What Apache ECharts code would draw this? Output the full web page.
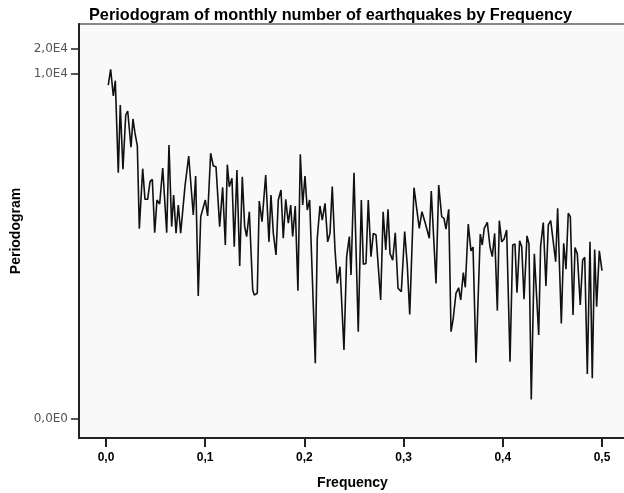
<!DOCTYPE html>
<html>
<head>
<meta charset="utf-8">
<script src="https://cdn.jsdelivr.net/npm/echarts@6/dist/echarts.min.js"></script>
<style>
  html, body { margin: 0; padding: 0; background: #fff; }
  #chart { width: 624px; height: 493px; }
</style>
</head>
<body>
<div id="chart"></div>
<script>
// frequency of each periodogram ordinate
const frequency = [
  0.0023, 0.0047, 0.0074, 0.0094, 0.0124, 0.0144, 0.0171, 0.0199, 0.0219, 0.0252,
  0.0272, 0.0292, 0.0316, 0.0336, 0.037, 0.0393, 0.042, 0.0444, 0.0467, 0.0491,
  0.0514, 0.0541, 0.0572, 0.0592, 0.0612, 0.0635, 0.0662, 0.0682, 0.0706, 0.0729,
  0.0753, 0.0796, 0.0834, 0.088, 0.0904, 0.093, 0.0955, 0.1001, 0.1025, 0.1055,
  0.1082, 0.1109, 0.1146, 0.1176, 0.1203, 0.1223, 0.1243, 0.127, 0.1293, 0.132,
  0.1348, 0.1374, 0.1398, 0.1418, 0.1445, 0.1479, 0.1495, 0.1525, 0.1545, 0.1573,
  0.161, 0.1643, 0.1663, 0.1687, 0.1714, 0.1737, 0.1764, 0.1787, 0.1812, 0.1838,
  0.1862, 0.1882, 0.1908, 0.1935, 0.1959, 0.1983, 0.2006, 0.2029, 0.2053, 0.211,
  0.213, 0.2157, 0.218, 0.2208, 0.2235, 0.2258, 0.2281, 0.2308, 0.2332, 0.2359,
  0.2376, 0.2399, 0.2426, 0.2453, 0.247, 0.25, 0.2543, 0.2574, 0.2594, 0.2621,
  0.2644, 0.2671, 0.2695, 0.2722, 0.2769, 0.2794, 0.282, 0.2843, 0.2863, 0.289,
  0.2916, 0.2944, 0.2977, 0.3011, 0.3037, 0.3062, 0.3105, 0.3158, 0.3185, 0.3219,
  0.3259, 0.3279, 0.3327, 0.3354, 0.3384, 0.3407, 0.3427, 0.3455, 0.3478, 0.3501,
  0.3528, 0.3555, 0.3576, 0.3602, 0.3622, 0.3652, 0.3679, 0.37, 0.373, 0.3773,
  0.3793, 0.3813, 0.3844, 0.3871, 0.3894, 0.3918, 0.3945, 0.3965, 0.3989, 0.4012,
  0.4039, 0.4073, 0.41, 0.4123, 0.4143, 0.417, 0.4191, 0.4214, 0.4244, 0.4264,
  0.4287, 0.4318, 0.4338, 0.4362, 0.4381, 0.4408, 0.4435, 0.4459, 0.4483, 0.4533,
  0.4553, 0.459, 0.4614, 0.4637, 0.466, 0.4681, 0.4708, 0.4728, 0.4751, 0.4781,
  0.4805, 0.4826, 0.4852, 0.4879, 0.4902, 0.4926, 0.4946, 0.4973, 0.5
];

// periodogram values
const periodogram = [
  7360, 11400, 5430, 8300, 647, 4236, 711, 3206, 3581, 1309,
  2870, 1946, 1358, 137, 723, 309, 309, 504, 538, 122,
  303, 271, 737, 764, 122, 1396, 145, 349, 121, 264,
  121, 439, 1028, 200, 590, 21.2, 191, 303, 195, 1109,
  779, 764, 145, 431, 87, 808, 439, 554, 83, 697,
  48.6, 579, 145, 110, 219, 25, 21.7, 22.8, 295, 166,
  607, 95, 349, 120, 66, 303, 400, 105, 309, 159,
  264, 110, 257, 24.5, 1078, 264, 590, 230, 303, 3.27,
  105, 257, 174, 277, 95, 120, 439, 79, 30, 47.7,
  50, 4.73, 63, 110, 37.9, 647, 7.86, 303, 51, 52,
  303, 63, 120, 115, 18.9, 219, 76, 234, 69, 57,
  122, 26.2, 23.8, 126, 50, 12.7, 427, 138, 219, 159,
  105, 389, 30, 460, 191, 182, 135, 234, 7.86, 11.4,
  22.8, 26.6, 18.9, 40.4, 26.9, 156, 74, 82, 3.32, 118,
  87, 138, 163, 83, 63, 120, 14.1, 171, 95, 102,
  132, 3.42, 87, 89.5, 23.2, 98, 83, 19.3, 112, 89.5,
  1.2, 68, 70, 7.17, 83, 162, 27.9, 152, 171, 54.8,
  241, 9.9, 91, 44.4, 210, 191, 12.5, 81, 68, 16.5,
  57, 62, 2.43, 95, 2.16, 77, 15.7, 74, 42.7
];

const xTicks = [0, 0.1, 0.2, 0.3, 0.4, 0.5];
const yTicks = [0.7, 10000, 20000];
const yTickLabels = ['0,0E0', '1,0E4', '2,0E4'];

const font = 'Liberation Sans, Arial, sans-serif';
const chart = echarts.init(document.getElementById('chart'));

const option = {
  animation: false,
  backgroundColor: '#ffffff',
  title: {
    text: 'Periodogram of monthly number of earthquakes by Frequency',
    left: 84,
    top: 3,
    textStyle: { fontFamily: font, fontSize: 16.3, fontWeight: 'bold', color: '#000' }
  },
  grid: {
    left: 79,
    top: 24,
    right: -2,
    bottom: 55,
    outerBoundsMode: 'none',
    containLabel: false,
    show: true,
    backgroundColor: '#f9f9f9',
    borderColor: '#888',
    borderWidth: 2
  },
  xAxis: {
    type: 'value',
    min: -0.0272,
    max: 0.5242,
    name: 'Frequency',
    nameLocation: 'middle',
    nameGap: 38,
    nameTextStyle: { fontFamily: font, fontSize: 14, fontWeight: 'bold', color: '#000' },
    splitLine: { show: false },
    axisLine: { onZero: false, lineStyle: { color: '#222', width: 2 } },
    axisTick: { customValues: xTicks, length: 9, lineStyle: { color: '#222', width: 2 } },
    axisLabel: {
      customValues: xTicks,
      margin: 14,
      fontFamily: font,
      fontSize: 12,
      fontWeight: 'bold',
      color: '#000',
      formatter: v => v.toFixed(1).replace('.', ',')
    }
  },
  yAxis: {
    type: 'log',
    min: 0.4116,
    max: 40000,
    name: 'Periodogram',
    nameLocation: 'middle',
    nameRotate: 90,
    nameGap: 56,
    nameTextStyle: { fontFamily: font, fontSize: 14, fontWeight: 'bold', color: '#000' },
    splitLine: { show: false },
    axisLine: { show: true, onZero: false, lineStyle: { color: '#222', width: 2 } },
    axisTick: { customValues: yTicks, length: 8, lineStyle: { color: '#222', width: 1.5 } },
    axisLabel: {
      customValues: yTicks,
      margin: 11,
      fontFamily: 'DejaVu Sans, sans-serif',
      fontSize: 12,
      color: '#555',
      formatter: v => {
        if (v >= 15000) return yTickLabels[2];
        if (v >= 5000) return yTickLabels[1];
        return yTickLabels[0];
      }
    }
  },
  series: [
    {
      type: 'line',
      data: frequency.map((f, i) => [f, periodogram[i]]),
      showSymbol: false,
      lineStyle: { color: '#111', width: 1.6 }
    }
  ]
};

chart.setOption(option);
</script>
</body>
</html>
